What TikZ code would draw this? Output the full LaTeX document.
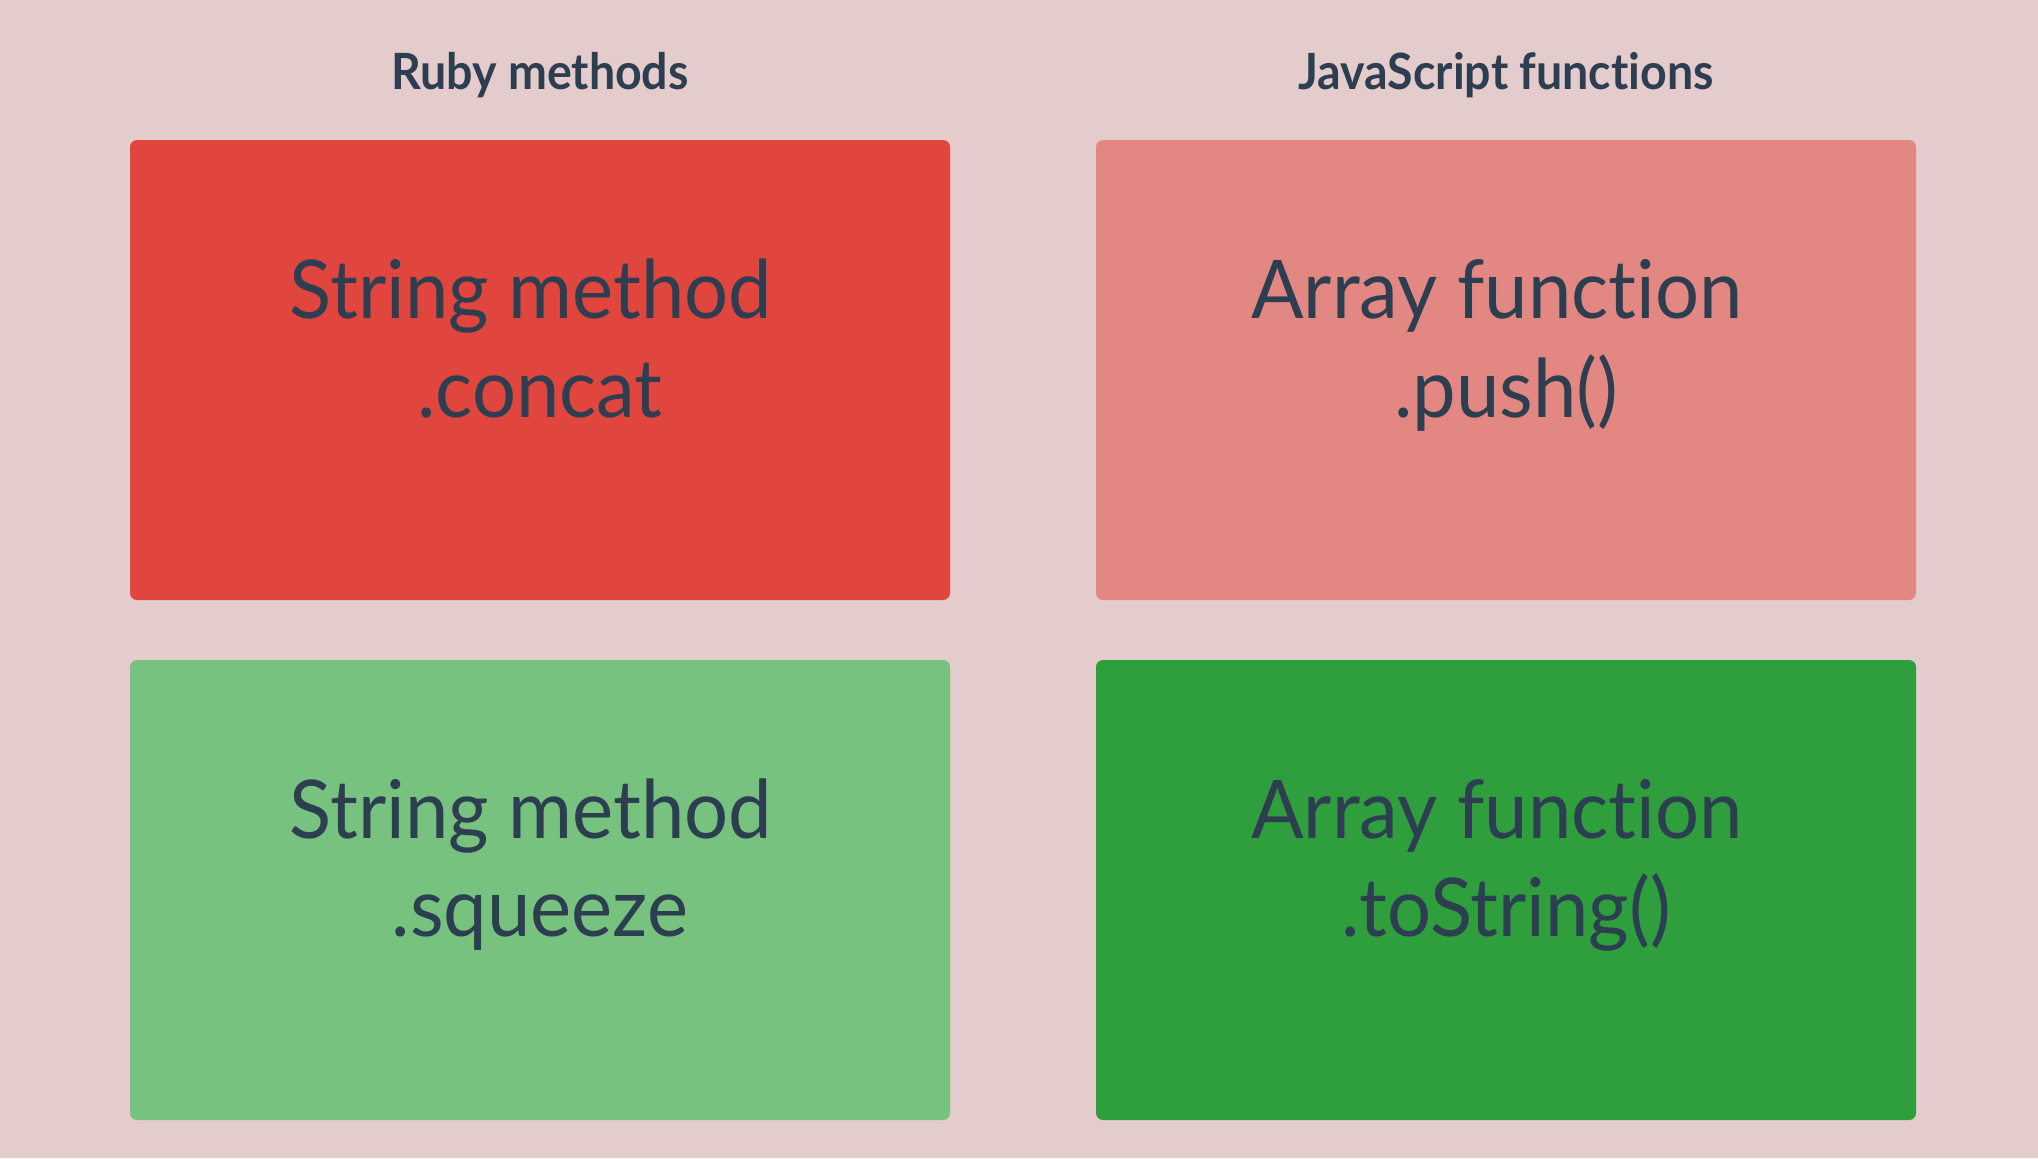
\documentclass[tikz,border=0pt]{standalone}
\usepackage{fontspec}
\setmainfont{Lato}[Ligatures=NoCommon]
\newfontfamily\titlefont{Lato Bold}[FakeStretch=0.93, Ligatures=NoCommon]
\newfontfamily\bigfont{Lato}[FakeStretch=0.96, Ligatures=NoCommon]
\definecolor{bg}{HTML}{E4CCCC}
\definecolor{ink}{HTML}{2C3E50}
\definecolor{redA}{HTML}{E0463E}
\definecolor{redB}{HTML}{E38782}
\definecolor{greenA}{HTML}{77C27F}
\definecolor{greenB}{HTML}{2F9E3D}
\begin{document}
\begin{tikzpicture}[x=0.5pt,y=-0.5pt,
  card/.style={draw=none, inner sep=0pt, rounded corners=3.5pt, minimum width=410pt, minimum height=230pt},
  title/.style={anchor=base, text=ink, inner sep=0pt, font=\fontsize{25}{30}\titlefont},
  big/.style={anchor=base, text=ink, inner sep=0pt, font=\fontsize{40.5}{48}\bigfont}]
\useasboundingbox (0,0) rectangle (2038,1158);
\fill[bg] (0,0) rectangle (2038,1158);
\node[title] (ruby) at (540,89) {Ruby methods};
\node[title] (js) at (1506,89) {JavaScript functions};
\node[card, fill=redA] (c1) at (540,370) {};
\node[card, fill=redB] (c2) at (1506,370) {};
\node[card, fill=greenA] (c3) at (540,890) {};
\node[card, fill=greenB] (c4) at (1506,890) {};
\node[big] (c1a) at (531,318) {String method};
\node[big] (c1b) at (540,417) {.concat};
\node[big] (c2a) at (1497,318) {Array function};
\node[big] (c2b) at (1506,417) {.push()};
\node[big] (c3a) at (531,838) {String method};
\node[big] (c3b) at (540,936) {.squeeze};
\node[big] (c4a) at (1497,838) {Array function};
\node[big] (c4b) at (1506,936) {.toString()};
\end{tikzpicture}
\end{document}
